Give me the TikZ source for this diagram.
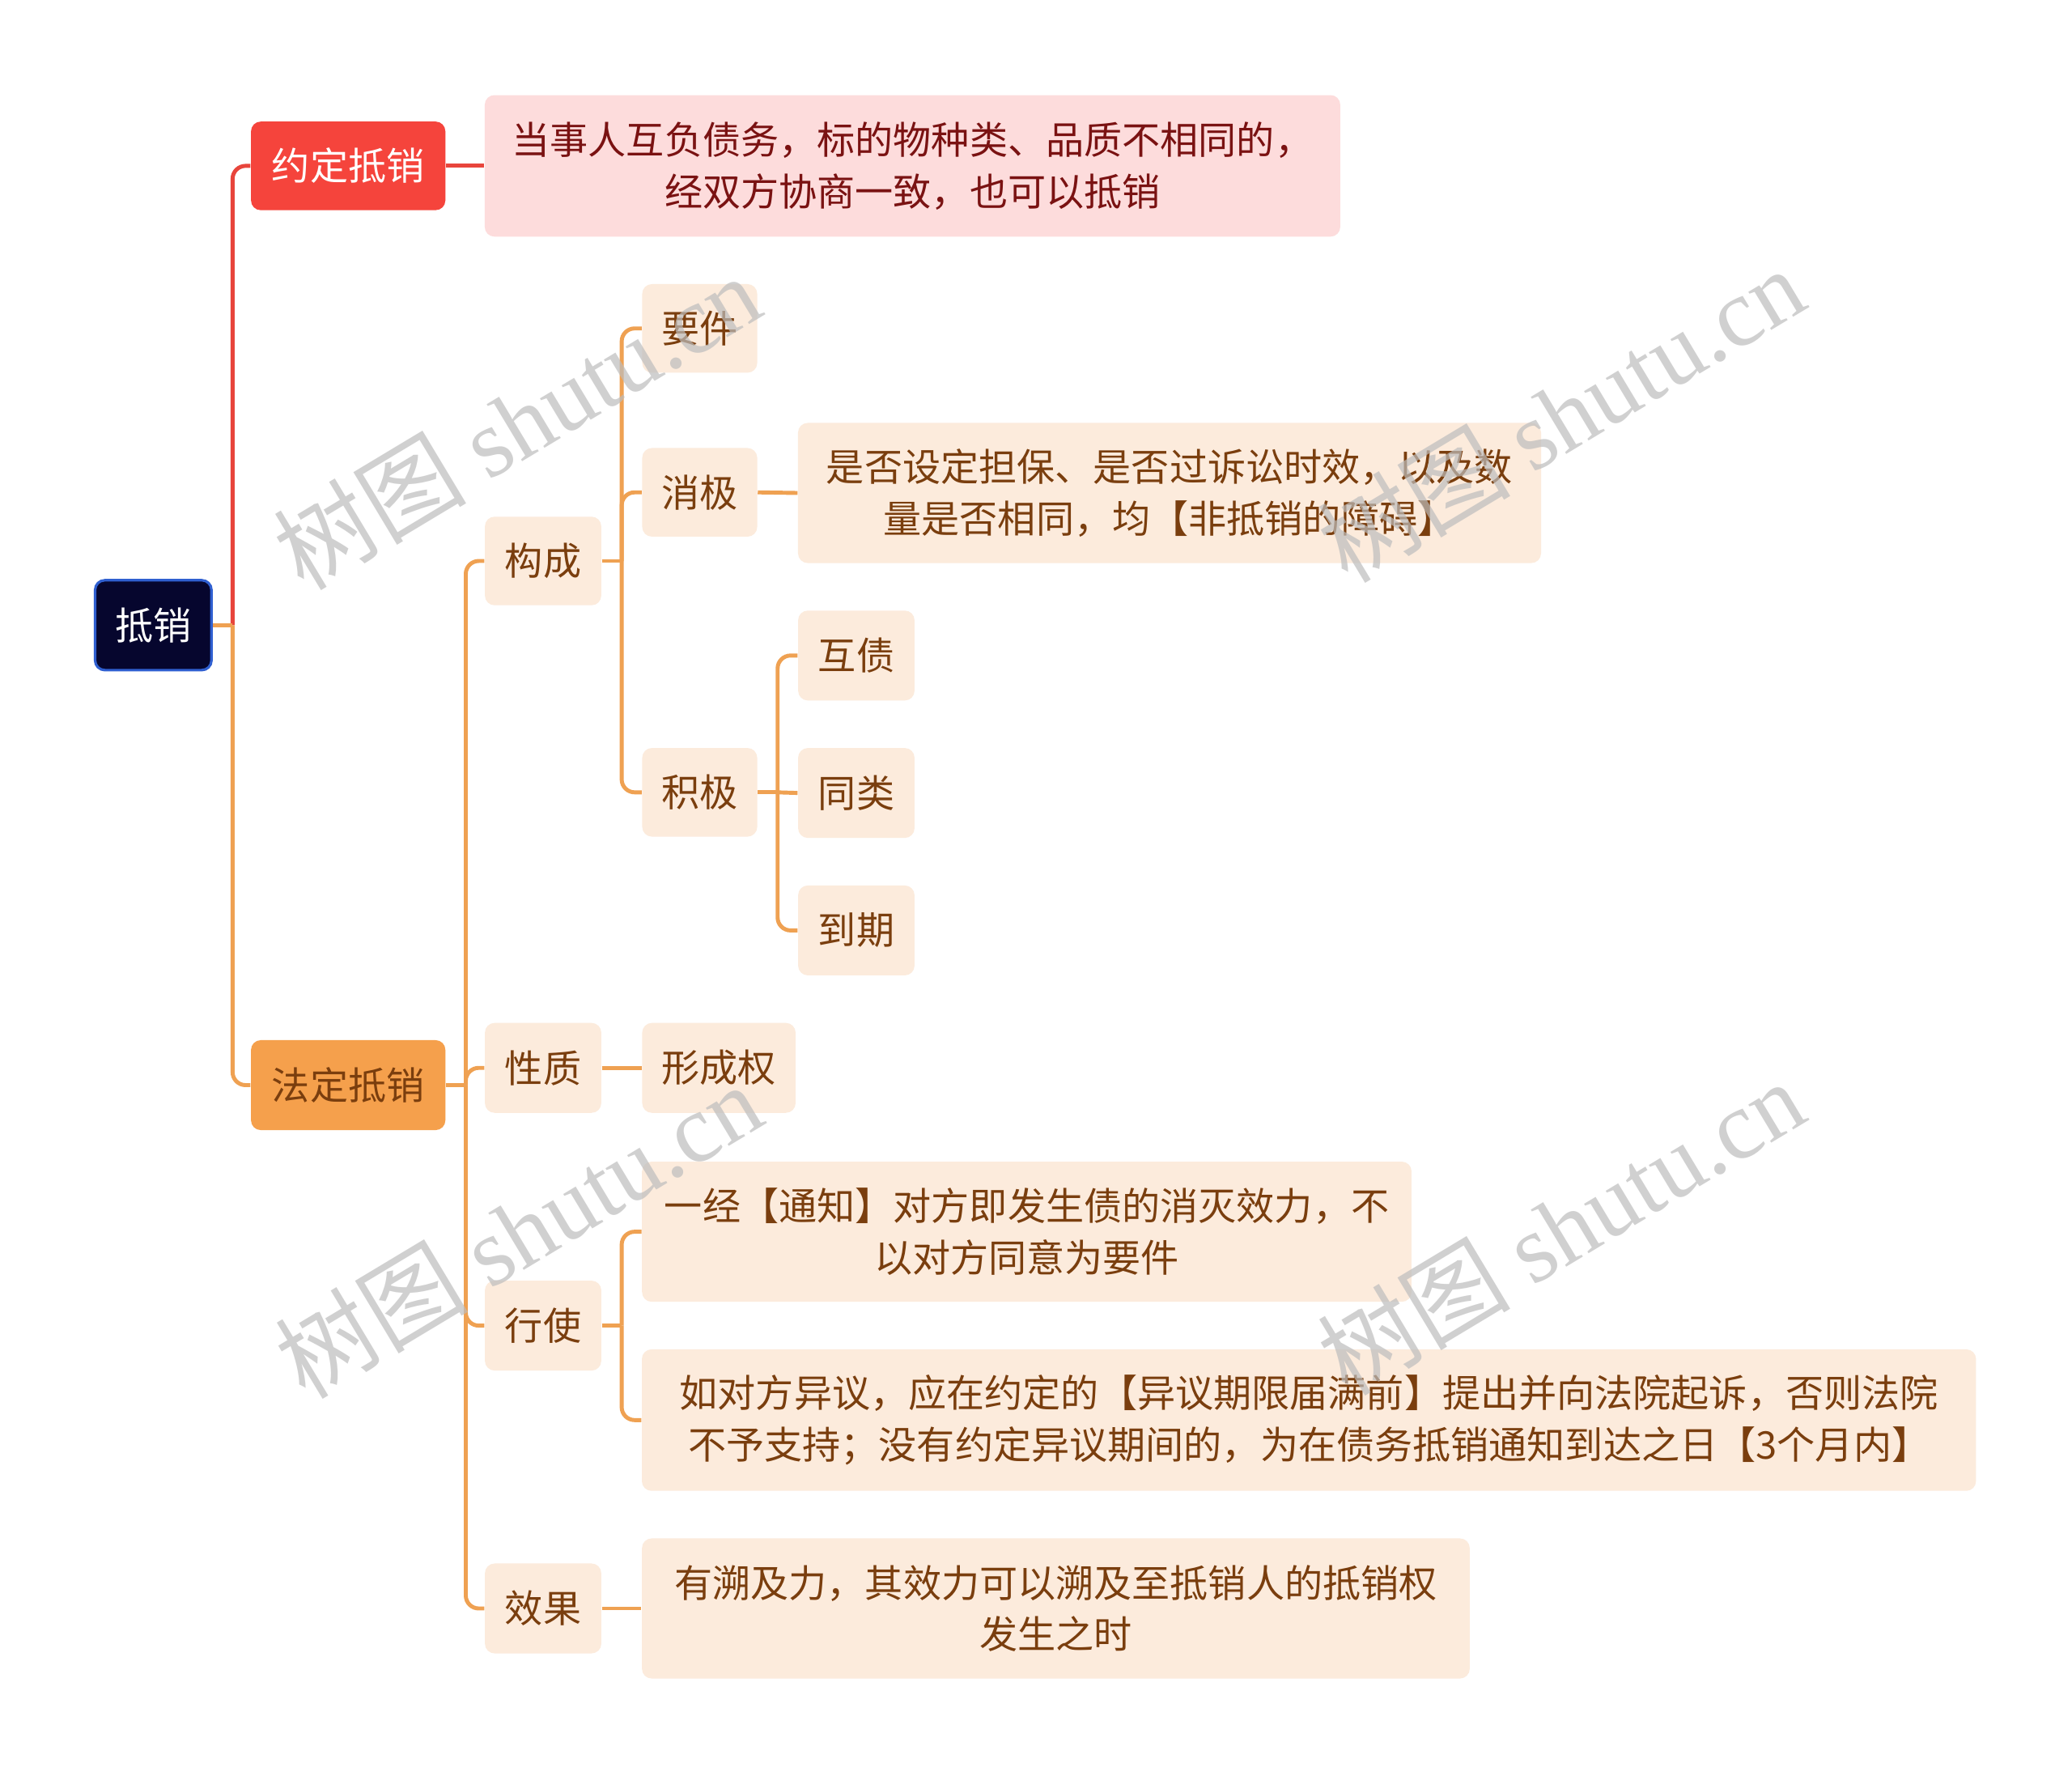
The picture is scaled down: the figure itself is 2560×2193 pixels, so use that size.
\documentclass[tikz,border=0pt]{standalone}
\usepackage{fontspec}
\setmainfont{Noto Sans CJK SC}
\newfontfamily\wmlatin{Liberation Serif}
\usetikzlibrary{calc}
\definecolor{rootfill}{HTML}{06062E}
\definecolor{rootborder}{HTML}{2F5FD0}
\definecolor{redfill}{HTML}{F5443C}
\definecolor{orfill}{HTML}{F5A04C}
\definecolor{pinkfill}{HTML}{FDDCDC}
\definecolor{lightfill}{HTML}{FCEBDC}
\definecolor{redtext}{HTML}{7A1212}
\definecolor{browntext}{HTML}{7A3E0E}
\definecolor{redline}{HTML}{E8453C}
\definecolor{orline}{HTML}{EFA152}
\definecolor{wmgray}{HTML}{BDBDBD}
\tikzset{
  box/.style={rounded corners=0.12cm, inner sep=0pt, align=center,
    font=\fontsize{13.4pt}{18.1pt}\selectfont},
  rootbox/.style={box, fill=rootfill, draw=rootborder, line width=0.9pt, text=white},
  redbox/.style={box, fill=redfill, text=white},
  orbox/.style={box, fill=orfill, text=browntext},
  pinkbox/.style={box, fill=pinkfill, text=redtext},
  lbox/.style={box, fill=lightfill, text=browntext},
  conn/.style={draw=orline, line width=1.4pt, rounded corners=0.16cm},
  rconn/.style={draw=redline, line width=1.4pt, rounded corners=0.16cm},
  wm/.style={rotate=31, text=wmgray, opacity=0.7, font=\fontsize{34pt}{40pt}\selectfont}
}
\begin{document}
\begin{tikzpicture}[x=0.01cm,y=-0.01cm]
\useasboundingbox[fill=white] (0,0) rectangle (2560,2193);
% nodes
\node[rootbox, minimum width=1.437cm, minimum height=1.11cm] (root) at (189.4,772.3) {抵销};
\node[redbox, minimum width=2.40cm, minimum height=1.094cm] (yd) at (430.2,204.9) {约定抵销};
\node[pinkbox, minimum width=10.564cm, minimum height=1.747cm] (ydt) at (1127.4,204.9) {当事人互负债务，标的物种类、品质不相同的，\\经双方协商一致，也可以抵销};
\node[orbox, minimum width=2.40cm, minimum height=1.11cm] (fd) at (430.2,1340.5) {法定抵销};
\node[lbox, minimum width=1.437cm, minimum height=1.094cm] (gc) at (671,693) {构成};
\node[lbox, minimum width=1.42cm, minimum height=1.094cm] (yj) at (864.5,405.7) {要件};
\node[lbox, minimum width=1.42cm, minimum height=1.094cm] (xj) at (864.5,608.2) {消极};
\node[lbox, minimum width=9.175cm, minimum height=1.73cm] (xjt) at (1445,609) {是否设定担保、是否过诉讼时效，以及数\\量是否相同，均【非抵销的障碍】};
\node[lbox, minimum width=1.42cm, minimum height=1.094cm] (jj) at (864.5,978.8) {积极};
\node[lbox, minimum width=1.437cm, minimum height=1.11cm] (hz) at (1058,809.8) {互债};
\node[lbox, minimum width=1.437cm, minimum height=1.11cm] (tl) at (1058,979.6) {同类};
\node[lbox, minimum width=1.437cm, minimum height=1.11cm] (dq) at (1058,1149.4) {到期};
\node[lbox, minimum width=1.437cm, minimum height=1.11cm] (xz) at (671,1319.2) {性质};
\node[lbox, minimum width=1.894cm, minimum height=1.11cm] (xcq) at (888.2,1319.2) {形成权};
\node[lbox, minimum width=1.437cm, minimum height=1.11cm] (xs) at (671,1637.6) {行使};
\node[lbox, minimum width=9.502cm, minimum height=1.73cm] (xs1) at (1268.6,1521.6) {一经【通知】对方即发生债的消灭效力，不\\以对方同意为要件};
\node[lbox, minimum width=16.474cm, minimum height=1.747cm] (xs2) at (1617.2,1754.3) {如对方异议，应在约定的【异议期限届满前】提出并向法院起诉，否则法院\\不予支持；没有约定异议期间的，为在债务抵销通知到达之日【3个月内】};
\node[lbox, minimum width=1.437cm, minimum height=1.11cm] (xg) at (671,1987) {效果};
\node[lbox, minimum width=10.221cm, minimum height=1.73cm] (xgt) at (1304.5,1987) {有溯及力，其效力可以溯及至抵销人的抵销权\\发生之时};
% junction coordinates
\coordinate (j0) at ($(root.east)+(24.5,0)$);
\coordinate (j1) at ($(fd.east)+(24.5,0)$);
\coordinate (j2) at ($(gc.east)+(24.5,0)$);
\coordinate (j3) at ($(jj.east)+(24.5,0)$);
\coordinate (j4) at ($(xs.east)+(24.5,0)$);
% connectors
\draw[rconn] (j0) |- (yd.west);
\draw[conn] (root.east) -- (j0);
\draw[conn] (j0) |- (fd.west);
\draw[rconn] (yd.east) -- (ydt.west);
\draw[conn] (fd.east) -- (j1);
\draw[conn] (j1) |- (gc.west);
\draw[conn] (j1) |- (xz.west);
\draw[conn] (j1) |- (xs.west);
\draw[conn] (j1) |- (xg.west);
\draw[conn] (gc.east) -- (j2);
\draw[conn] (j2) |- (yj.west);
\draw[conn] (j2) |- (xj.west);
\draw[conn] (j2) |- (jj.west);
\draw[conn] (xj.east) -- (xjt.west);
\draw[conn] (jj.east) -- (j3);
\draw[conn] (j3) |- (hz.west);
\draw[conn] (j3) -- (tl.west);
\draw[conn] (j3) |- (dq.west);
\draw[conn] (xz.east) -- (xcq.west);
\draw[conn] (xs.east) -- (j4);
\draw[conn] (j4) |- (xs1.west);
\draw[conn] (j4) |- (xs2.west);
\draw[conn] (xg.east) -- (xgt.west);
% watermarks
\node[wm] (wm1) at (638,521) {树图 {\wmlatin shutu.cn}};
\node[wm] (wm2) at (1928,512) {树图 {\wmlatin shutu.cn}};
\node[wm] (wm3) at (640,1520) {树图 {\wmlatin shutu.cn}};
\node[wm] (wm4) at (1928,1516) {树图 {\wmlatin shutu.cn}};
\end{tikzpicture}
\end{document}
